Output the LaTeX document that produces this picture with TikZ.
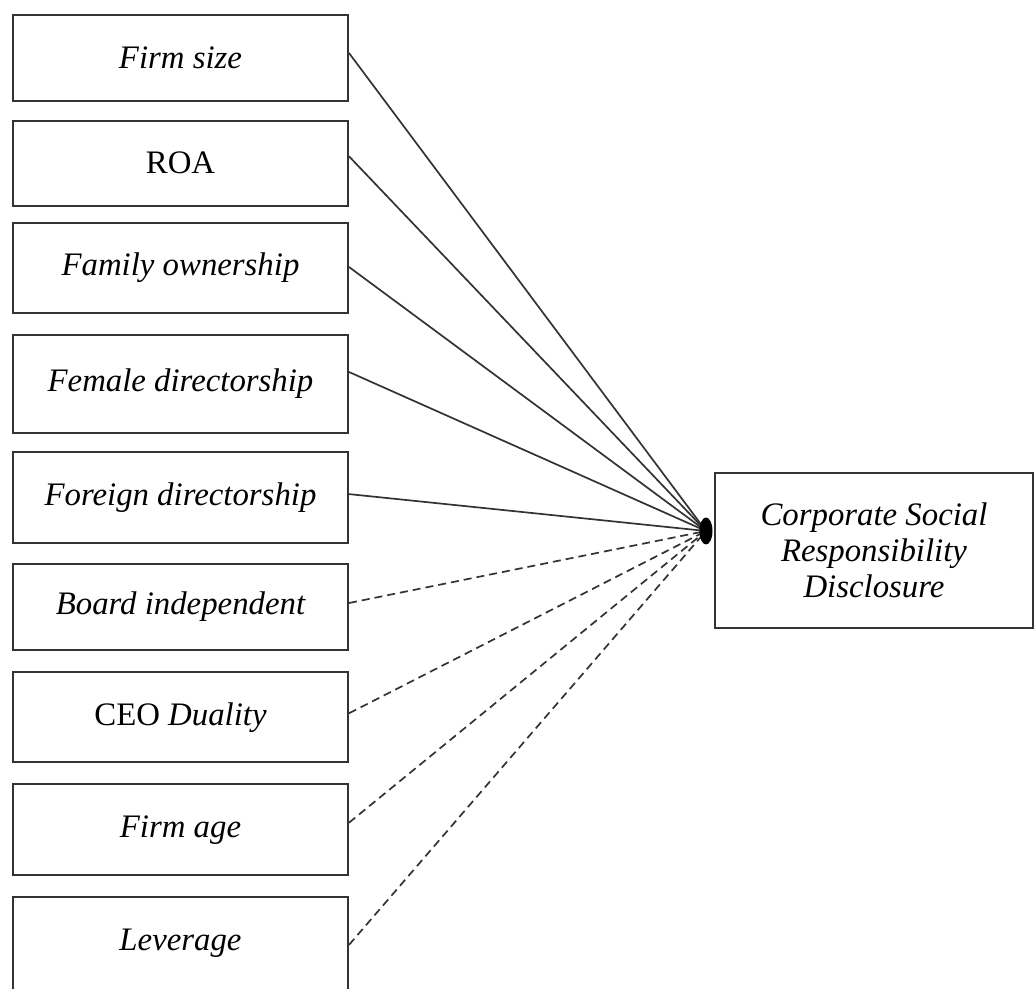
\documentclass[tikz,border=0pt]{standalone}
\usepackage{fontspec}
\setmainfont{Liberation Serif}
\usetikzlibrary{shapes.geometric}
\begin{document}
% One unit = half a point; y grows downwards
\begin{tikzpicture}[x=0.5pt,y=-0.5pt,
  box/.style={draw=black!80, line width=1pt, minimum width=167.5pt, inner sep=0pt,
    font=\fontsize{16.4}{18}\selectfont\itshape, align=center},
  link/.style={draw=black!80, line width=0.85pt},
  weak/.style={link, dash pattern=on 4pt off 2.5pt}]
\useasboundingbox[fill=white] (0,0) rectangle (1035,989);

% predictor boxes
\node[box, minimum height=43pt]   (fs)  at (180.5,58)    {Firm size};
\node[box, minimum height=42.7pt] (roa) at (180.5,163.3) {\upshape ROA};
\node[box, minimum height=45pt]   (fam) at (180.5,268)   {Family ownership};
\node[box, minimum height=48.8pt] (fem) at (180.5,384)   {Female directorship};
\node[box, minimum height=45.2pt] (for) at (180.5,497.5) {Foreign directorship};
\node[box, minimum height=42.8pt] (bi)  at (180.5,607)   {Board independent};
\node[box, minimum height=45pt]   (ceo) at (180.5,717.3) {{\upshape CEO} Duality};
\node[box, minimum height=45.3pt] (age) at (180.5,829.7) {Firm age};
\node[box, minimum height=46.8pt] (lev) at (180.5,943.5) {Leverage};

% outcome box
\node[box, minimum width=159pt, minimum height=77.7pt] (csr) at (874,550.3)
  {Corporate Social\\Responsibility\\Disclosure};

% convergence point
\coordinate (hub) at (706,531);

% significant paths
\draw[link] ([yshift=2.5pt]fs.east)  -- (hub);
\draw[link] ([yshift=3.5pt]roa.east) -- (hub);
\draw[link] ([yshift=0.5pt]fam.east) -- (hub);
\draw[link] ([yshift=6pt]fem.east)   -- (hub);
\draw[link] ([yshift=1.7pt]for.east) -- (hub);

% non-significant paths
\draw[weak] ([yshift=2pt]bi.east)    -- (hub);
\draw[weak] ([yshift=2pt]ceo.east)   -- (hub);
\draw[weak] ([yshift=3.5pt]age.east) -- (hub);
\draw[weak] ([yshift=-0.7pt]lev.east) -- (hub);

\node[ellipse, fill=black, inner sep=0pt, minimum width=6.5pt, minimum height=13.5pt] (dot) at (hub) {};
\end{tikzpicture}
\end{document}
